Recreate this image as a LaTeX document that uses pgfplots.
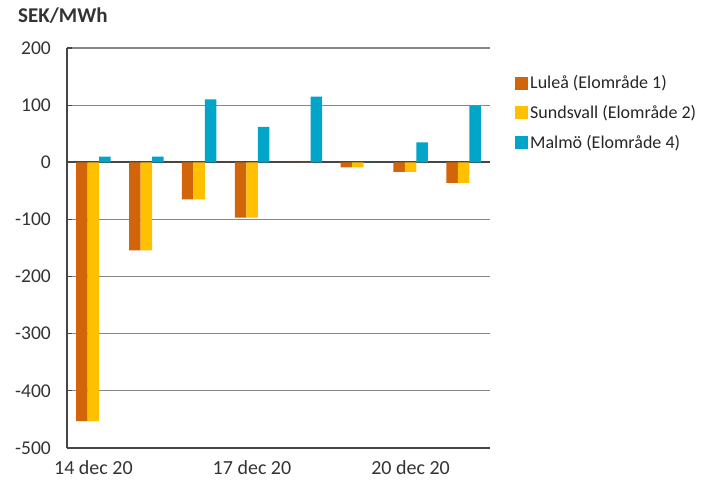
\documentclass[border=0pt]{standalone}
\usepackage{pgfplots}
\pgfplotsset{compat=1.18}
\usepackage{fontspec}
\setmainfont{Carlito}
\definecolor{lulea}{RGB}{210,100,10}
\definecolor{sund}{RGB}{255,192,0}
\definecolor{malmo}{RGB}{0,165,200}
\definecolor{axgray}{RGB}{70,70,70}
\definecolor{gridgray}{RGB}{135,135,135}
\begin{document}
\fontsize{18bp}{21bp}\selectfont
\begin{tikzpicture}[x=1bp,y=1bp]
\path[use as bounding box] (0,0) rectangle (711,482);
\begin{axis}[
  at={(67bp,34bp)}, anchor=south west,
  scale only axis, width=423bp, height=400bp,
  ymin=-500, ymax=200, ytick={-500,-400,...,200},
  xmin=-0.5, xmax=7.5, xtick={0,3,6},
  xticklabels={14 dec 20,17 dec 20,20 dec 20},
  ybar=0pt, bar width=11.5bp,
  axis x line=none,
  axis y line*=left,
  y axis line style={axgray, line width=1.6bp, -},
  ymajorgrids, grid style={gridgray, line width=1.2bp},
  extra y ticks={0,-500}, extra y tick labels={},
  extra y tick style={grid style={axgray, line width=1.8bp}, major tick length=0pt},
  major tick length=5bp,
  ytick style={axgray, line width=1.2bp},
  ytick pos=left,
  yticklabel shift=10bp,
  yticklabel style={font=\fontsize{19.5bp}{21bp}\selectfont, color=black!80},
  /pgf/number format/assume math mode=true,
  legend style={draw=none, fill=none, at={(1,1)}, anchor=north west,
    xshift=22bp, yshift=-23bp, row sep=10bp,
    font=\fontsize{18bp}{21bp}\selectfont, text=black!85,
    legend cell align=left},
  legend image code/.code={\fill[#1] (0bp,-6.5bp) rectangle (13bp,6.5bp);},
  clip=false,
]
\addplot[fill=lulea, draw=none] coordinates {(0,-453) (1,-154) (2,-65) (3,-97) (4,0) (5,-9) (6,-17) (7,-36)};
\addplot[fill=sund, draw=none] coordinates {(0,-453) (1,-154) (2,-65) (3,-97) (4,0) (5,-9) (6,-17) (7,-36)};
\addplot[fill=malmo, draw=none] coordinates {(0,10) (1,10) (2,110) (3,62) (4,115) (5,0) (6,35) (7,99)};
\legend{Luleå (Elområde 1),Sundsvall (Elområde 2),Malmö (Elområde 4)}
\end{axis}
\node[anchor=base west, font=\bfseries\fontsize{21bp}{24bp}\selectfont, text=black!80] at (12,459) {SEK/MWh};
\foreach \lab/\xx in {14 dec 20/93.4, 17 dec 20/252.0, 20 dec 20/410.6}
  \node[anchor=base, text=black!80, font=\fontsize{20bp}{22bp}\selectfont] at (\xx,7) {\lab};
\end{tikzpicture}
\end{document}
